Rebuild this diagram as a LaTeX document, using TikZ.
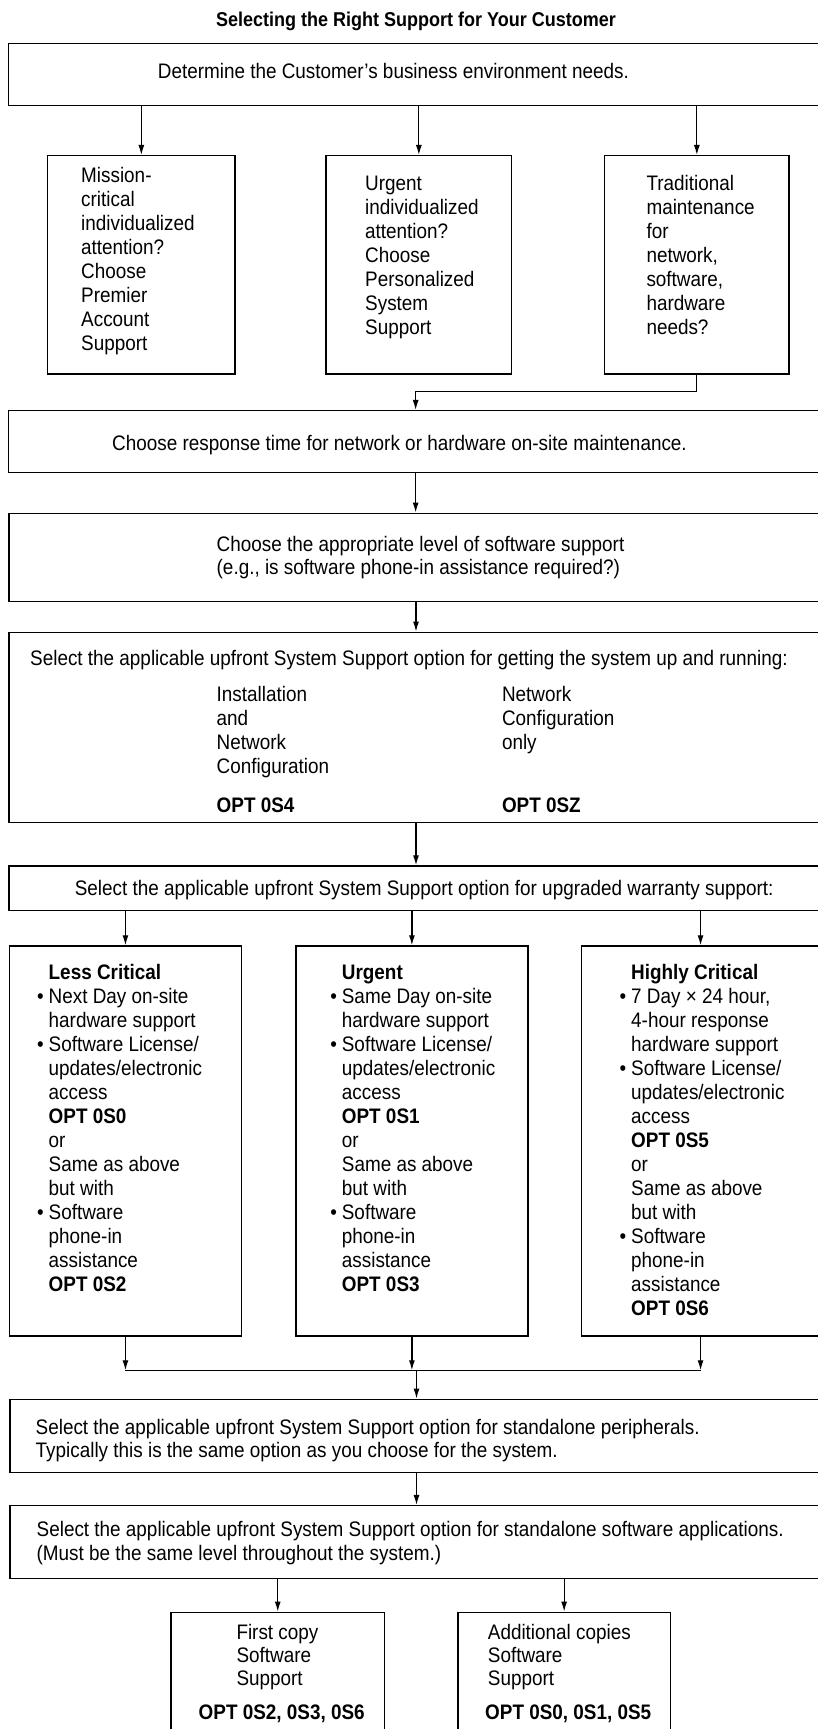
\documentclass[tikz,border=0pt]{standalone}
\usepackage{fontspec}
\setmainfont{Liberation Sans}[FakeStretch=0.9]
\usetikzlibrary{positioning}
\usetikzlibrary{arrows.meta}
\newcommand\bul{\llap{\textbullet\hspace{5pt}}}

\begin{document}
\begin{tikzpicture}[x=1pt, y=-1pt, line join=miter,
    box/.style={draw, line width=1.5pt, inner sep=0pt},
    arr/.style={line width=1.2pt, -{Latex[length=10pt,width=6pt]}},
    txt/.style={font=\fontsize{21}{24}\selectfont, inner sep=0pt, align=left, anchor=base west},
    tight/.style={font=\fontsize{21}{23.3}\selectfont}]
            \useasboundingbox [fill=white] (0,0) rectangle (818,1729);

            \node [font=\bfseries\fontsize{20}{24}\selectfont, inner sep=0pt, anchor=base] (title) at (416,26)
                {Selecting the Right Support for Your Customer};

            \node [box, minimum width=814.7, minimum height=62.4] (A) at (415.65,74.5) {};
            \node [box, minimum width=187.3, minimum height=218.3] (b1) at (141.35,264.85) {};
            \node [box, minimum width=185.7, minimum height=218.3] (b2) at (418.85,264.85) {};
            \node [box, minimum width=184.3, minimum height=218.3] (b3) at (696.85,264.85) {};
            \node [box, minimum width=814.7, minimum height=62] (B) at (415.65,441.7) {};
            \node [box, minimum width=814, minimum height=88.4] (C) at (416,557.5) {};
            \node [box, minimum width=814, minimum height=190.4] (D) at (416,727.5) {};
            \node [box, minimum width=814, minimum height=44.7] (E) at (416,888.35) {};
            \node [box, minimum width=232.1, minimum height=390] (w1) at (125.45,1141) {};
            \node [box, minimum width=232.2, minimum height=390] (w2) at (411.9,1141) {};
            \node [box, minimum width=237.9, minimum height=390] (w3) at (700.55,1141) {};
            \node [box, minimum width=813, minimum height=73] (F) at (416.5,1435.8) {};
            \node [box, minimum width=813, minimum height=72.6] (G) at (416.5,1542) {};
            \node [box, minimum width=213.5, minimum height=132.7] (H) at (277.75,1678.65) {};
            \node [box, minimum width=212.3, minimum height=132.7] (I) at (564.15,1678.65) {};

            \node [txt] (tA) at (157.7,78.5) {Determine the Customer’s business environment needs.};
            \node [txt] (t1) at (81,350.5) {Mission-\\critical\\individualized\\attention?\\Choose\\Premier\\Account\\Support};
            \node [txt] (t2) at (365,334.5) {Urgent\\individualized\\attention?\\Choose\\Personalized\\System\\Support};
            \node [txt] (t3) at (646.3,334.5) {Traditional\\maintenance\\for\\network,\\software,\\hardware\\needs?};
            \node [txt] (tB) at (112,450.5) {Choose response time for network or hardware on-site maintenance.};
            \node [txt, tight] (tC) at (216.5,574.8) {Choose the appropriate level of software support\\(e.g., is software phone-in assistance required?)};
            \node [txt] (tD) at (30,665.8) {Select the applicable upfront System Support option for getting the system up and running:};
            \node [txt] (tD1) at (216.5,773.8) {Installation\\and\\Network\\Configuration};
            \node [txt] (tD2) at (501.8,749.8) {Network\\Configuration\\only};
            \node [txt] (oD1) at (216.5,812.5) {\textbf{OPT 0S4}};
            \node [txt] (oD2) at (501.8,812.5) {\textbf{OPT 0SZ}};
            \node [txt] (tE) at (74.6,895.8) {Select the applicable upfront System Support option for upgraded warranty support:};
            \node [txt] (tw1) at (48.5,1291.5) {\textbf{Less Critical}\\\bul Next Day on-site\\hardware support\\\bul Software License/\\updates/electronic\\access\\\textbf{OPT 0S0}\\or\\Same as above\\but with\\\bul Software\\phone-in\\assistance\\\textbf{OPT 0S2}};
            \node [txt] (tw2) at (341.7,1291.5) {\textbf{Urgent}\\\bul Same Day on-site\\hardware support\\\bul Software License/\\updates/electronic\\access\\\textbf{OPT 0S1}\\or\\Same as above\\but with\\\bul Software\\phone-in\\assistance\\\textbf{OPT 0S3}};
            \node [txt] (tw3) at (631,1315.5) {\textbf{Highly Critical}\\\bul 7 Day × 24 hour,\\4-hour response\\hardware support\\\bul Software License/\\updates/electronic\\access\\\textbf{OPT 0S5}\\or\\Same as above\\but with\\\bul Software\\phone-in\\assistance\\\textbf{OPT 0S6}};
            \node [txt, tight] (tF) at (35.5,1457.5) {Select the applicable upfront System Support option for standalone peripherals.\\Typically this is the same option as you choose for the system.};
            \node [txt, tight] (tG) at (36.5,1560.2) {Select the applicable upfront System Support option for standalone software applications.\\(Must be the same level throughout the system.)};
            \node [txt, tight] (tH) at (236.3,1685.8) {First copy\\Software\\Support};
            \node [txt, anchor=base] (oH) at (281.7,1719.2) {\textbf{OPT 0S2, 0S3, 0S6}};
            \node [txt, tight] (tI) at (487.7,1685.8) {Additional copies\\Software\\Support};
            \node [txt] (oI) at (485,1719.2) {\textbf{OPT 0S0, 0S1, 0S5}};

            \coordinate (jF) at ([yshift=28.3pt]F.north);

            \draw [arr] (A.south -| b1.north) -- (b1.north);
            \draw [arr] (A.south -| b2.north) -- (b2.north);
            \draw [arr] (A.south -| b3.north) -- (b3.north);
            \draw [arr] (b3.south) -- ++(0,16.7) -| (B.north);
            \draw [arr] (B.south) -- (B.south |- C.north);
            \draw [arr] (C.south) -- (C.south |- D.north);
            \draw [arr] (D.south) -- (D.south |- E.north);
            \draw [arr] (E.south -| w1.north) -- (w1.north);
            \draw [arr] (E.south -| w2.north) -- (w2.north);
            \draw [arr] (E.south -| w3.north) -- (w3.north);
            \draw [arr] (w1.south) -- (w1.south |- jF);
            \draw [arr] (w2.south) -- (w2.south |- jF);
            \draw [arr] (w3.south) -- (w3.south |- jF);
            \draw [line width=1.2pt] (w1.south |- jF) -- (w3.south |- jF);
            \draw [arr] (jF) -- (F.north);
            \draw [arr] (F.south) -- (F.south |- G.north);
            \draw [arr] (G.south -| H.north) -- (H.north);
            \draw [arr] (G.south -| I.north) -- (I.north);
        \end{tikzpicture}
\end{document}
